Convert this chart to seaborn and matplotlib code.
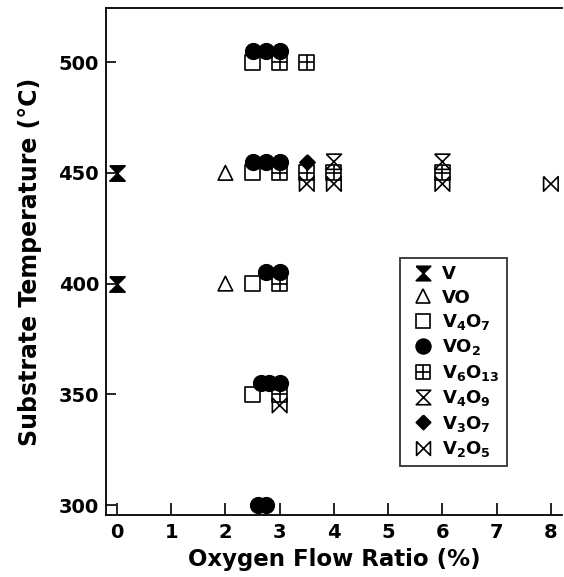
import numpy as np
import pandas as pd
import matplotlib
matplotlib.use("Agg")
import matplotlib.pyplot as plt
from matplotlib.path import Path
from matplotlib.lines import Line2D
import seaborn as sns

# Data (oxygen flow ratio %, substrate temperature C)
phases = ["V", "VO", "V4O7", "VO2", "V6O13", "V4O9", "V3O7", "V2O5"]
labels = ["V", "VO", r"V$_4$O$_7$", r"VO$_2$", r"V$_6$O$_{13}$",
          r"V$_4$O$_9$", r"V$_3$O$_7$", r"V$_2$O$_5$"]

v_x = [0, 0]
v_y = [450, 400]
vo_x = [2, 2]
vo_y = [450, 400]
v4o7_x = [2.5, 2.5, 2.5, 2.5]
v4o7_y = [500, 450, 400, 350]
vo2_x = [2.5, 2.75, 3.0, 2.5, 2.75, 3.0, 2.75, 3.0, 2.65, 2.8, 3.0, 2.6, 2.75]
vo2_y = [505, 505, 505, 455, 455, 455, 405, 405, 355, 355, 355, 300, 300]
v6o13_x = [3, 3.5, 3, 3.5, 4, 6, 3, 3]
v6o13_y = [500, 500, 450, 450, 450, 450, 400, 350]
v4o9_x = [4, 6]
v4o9_y = [455, 455]
v3o7_x = [3.5]
v3o7_y = [455]
v2o5_x = [3.5, 4, 6, 8, 3]
v2o5_y = [445, 445, 445, 445, 345]

xs = [v_x, vo_x, v4o7_x, vo2_x, v6o13_x, v4o9_x, v3o7_x, v2o5_x]
ys = [v_y, vo_y, v4o7_y, vo2_y, v6o13_y, v4o9_y, v3o7_y, v2o5_y]

# custom marker shapes
hourglass = Path([(-1, 1), (1, 1), (-1, -1), (1, -1), (-1, 1)])
bowtie = Path([(-1, 1), (-1, -1), (1, 1), (1, -1), (-1, 1)])
boxplus = Path([(-1, -1), (1, -1), (1, 1), (-1, 1), (-1, -1),
                (0, -1), (0, 1), (-1, 0), (1, 0)],
               [Path.MOVETO, Path.LINETO, Path.LINETO, Path.LINETO, Path.CLOSEPOLY,
                Path.MOVETO, Path.LINETO, Path.MOVETO, Path.LINETO])
diamond = Path([(0, 1), (1, 0), (0, -1), (-1, 0), (0, 1)])

markers = [hourglass, "^", "s", "o", boxplus, hourglass, diamond, bowtie]
filled = [True, False, False, True, False, False, True, False]
sizes = [120, 110, 115, 125, 115, 120, 120, 110]
draw_order = [0, 1, 2, 4, 5, 7, 6, 3]

plt.rcParams["font.family"] = "DejaVu Sans"
plt.rcParams["font.weight"] = "bold"
plt.rcParams["mathtext.fontset"] = "custom"
plt.rcParams["mathtext.rm"] = "DejaVu Sans:bold"
plt.rcParams["mathtext.it"] = "DejaVu Sans:bold"
plt.rcParams["mathtext.bf"] = "DejaVu Sans:bold"

fig = plt.figure(figsize=(5.64, 5.77), dpi=100)
ax = fig.add_axes([0.188, 0.1075, 0.808, 0.8785])

for i in draw_order:
    df = pd.DataFrame({"x": xs[i], "y": ys[i]})
    sns.scatterplot(data=df, x="x", y="y", ax=ax, marker=markers[i], s=sizes[i],
                    facecolor="black" if filled[i] else "none",
                    edgecolor="black", linewidth=1.2, zorder=3 if filled[i] else 2)

ax.set_xlim(-0.2, 8.2)
ax.set_ylim(295.5, 524.4)
ax.set_xticks(range(0, 9))
ax.set_yticks([300, 350, 400, 450, 500])
ax.tick_params(axis="x", direction="in", length=9, width=1.2, labelsize=14, pad=6)
ax.tick_params(axis="y", direction="in", length=7, width=1.2, labelsize=14, pad=5)
ax.spines["right"].set_visible(False)
for s in ["left", "bottom", "top"]:
    ax.spines[s].set_linewidth(1.3)

ax.set_xlabel("Oxygen Flow Ratio (%)", fontsize=16.5, fontweight="bold", labelpad=4)
ax.set_ylabel("Substrate Temperature (°C)", fontsize=17, fontweight="bold", labelpad=12)

handles = []
for i in range(len(phases)):
    handles.append(Line2D([], [], linestyle="none", marker=markers[i],
                          markersize=np.sqrt(sizes[i]) * 0.95,
                          markerfacecolor="black" if filled[i] else "none",
                          markeredgecolor="black", markeredgewidth=1.2))
leg = ax.legend(handles, labels, loc="upper left", bbox_to_anchor=(0.645, 0.507),
                frameon=True, fancybox=False, edgecolor="black", fontsize=13,
                handlelength=1.75, handletextpad=0.2, labelspacing=0.3,
                borderpad=0.4, borderaxespad=0)
leg.get_frame().set_linewidth(1.3)

plt.savefig("out.png", dpi=100)
